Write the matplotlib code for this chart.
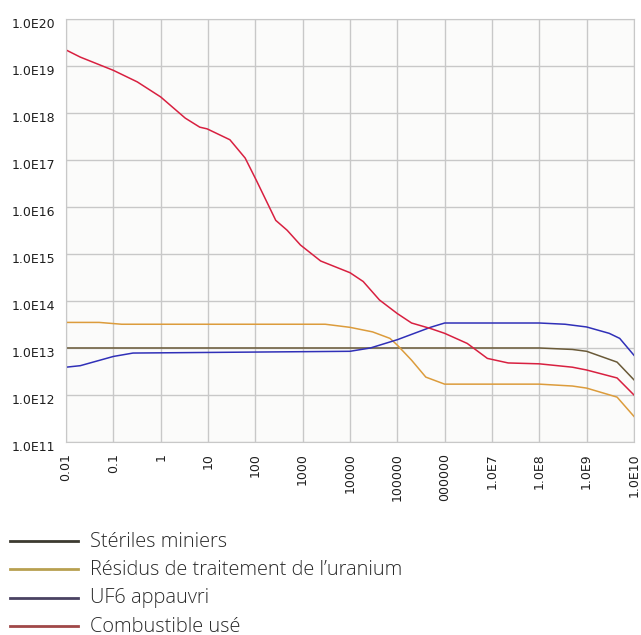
import numpy as np
import matplotlib
matplotlib.use("Agg")
import matplotlib.pyplot as plt
from matplotlib.lines import Line2D
import matplotlib.transforms as mtransforms

# time axis (years) and activity values
sterile_x = [0.01, 1e8, 5e8, 1e9, 4.4e9, 1e10]
sterile_y = [1.0e13, 1.0e13, 9.3e12, 8.5e12, 5.0e12, 2.1e12]

residus_x = [0.01, 0.05, 0.15, 3000, 10000, 30000, 7e4, 1e5, 2e5, 4e5, 1e6,
             1e8, 5e8, 1e9, 4.4e9, 1e10]
residus_y = [3.5e13, 3.5e13, 3.2e13, 3.2e13, 2.75e13, 2.2e13, 1.6e13, 1.15e13,
             5.5e12, 2.4e12, 1.7e12, 1.7e12, 1.55e12, 1.4e12, 9.0e11, 3.5e11]

uf6_x = [0.01, 0.02, 0.1, 0.26, 10000, 27000, 1e5, 5e5, 1e6, 1e8, 3.5e8,
         1e9, 3e9, 5e9, 1e10]
uf6_y = [3.9e12, 4.2e12, 6.6e12, 7.8e12, 8.5e12, 1.0e13, 1.5e13, 2.75e13,
         3.4e13, 3.4e13, 3.2e13, 2.8e13, 2.05e13, 1.6e13, 7.0e12]

combustible_x = [0.01, 0.02, 0.1, 0.32, 1, 3.3, 6.7, 9.6, 29, 61, 105, 270,
                 470, 900, 2400, 10000, 19000, 42000, 1e5, 2e5, 5e5, 1e6,
                 3e6, 8e6, 2.2e7, 1e8, 5e8, 1e9, 4.4e9, 1e10]
combustible_y = [2.2e19, 1.55e19, 8.1e18, 4.6e18, 2.2e18, 7.8e17, 5.0e17,
                 4.6e17, 2.7e17, 1.1e17, 3.7e16, 5.2e15, 3.2e15, 1.55e15,
                 7.1e14, 4.0e14, 2.6e14, 1.05e14, 5.4e13, 3.4e13, 2.6e13,
                 2.05e13, 1.25e13, 6.0e12, 4.8e12, 4.6e12, 3.9e12, 3.4e12,
                 2.3e12, 1.0e12]

x_ticks = [1e-2, 1e-1, 1, 10, 100, 1000, 10000, 1e5, 1e6, 1e7, 1e8, 1e9, 1e10]
x_labels = ["0.01", "0.1", "1", "10", "100", "1000", "10000", "100000",
            "000000", "1.0E7", "1.0E8", "1.0E9", "1.0E10"]
y_ticks = [10.0 ** k for k in range(11, 21)]
y_labels = ["1.0E%d" % k for k in range(11, 21)]

series_names = ["Stériles miniers", "Résidus de traitement de l’uranium",
                "UF6 appauvri", "Combustible usé"]
line_colors = ["#6a5a38", "#dc9c3c", "#3030b8", "#d82040"]
legend_colors = ["#3c3a30", "#b8a050", "#4a4262", "#a04848"]

fig = plt.figure(figsize=(6.41, 6.35), dpi=100)
fig.patch.set_facecolor("white")
ax = fig.add_axes([0.103, 0.304, 0.886, 0.666])
ax.set_facecolor("#fbfbfa")

data = [(sterile_x, sterile_y), (residus_x, residus_y),
        (uf6_x, uf6_y), (combustible_x, combustible_y)]
for (xs, ys), c in zip(data, line_colors):
    ax.plot(xs, ys, color=c, lw=1.1)

ax.set_xscale("log")
ax.set_yscale("log")
ax.set_xlim(1e-2, 1e10)
ax.set_ylim(1e11, 1e20)
ax.set_xticks(x_ticks)
ax.set_xticklabels(x_labels, rotation=90, fontsize=9, family="DejaVu Sans",
                   color="#1e1e1e")
ax.set_yticks(y_ticks)
ax.set_yticklabels(y_labels, fontsize=9, family="DejaVu Sans", color="#1e1e1e")
ax.minorticks_off()
ax.tick_params(length=0, pad=8)
ax.grid(True, color="#c8c8c8", lw=1)
for s in ax.spines.values():
    s.set_color("#c8c8c8")

# y labels sit a little below their gridlines in the original
offset = mtransforms.ScaledTranslation(0, -4 / 100, fig.dpi_scale_trans)
for lab in ax.get_yticklabels():
    lab.set_transform(lab.get_transform() + offset)

# legend below the chart
H = 635.0
for i, (name, c) in enumerate(zip(series_names, legend_colors)):
    yy = 1 - (541 + i * 28.3) / H
    fig.add_artist(Line2D([10 / 641, 78 / 641], [yy, yy], color=c, lw=2,
                          transform=fig.transFigure))
    fig.text(90 / 641, yy - 0.001, name, fontsize=14.4, family="Open Sans",
             weight="light", color="#2a2a2a", va="center", ha="left")

fig.savefig("out.png", dpi=100, facecolor="white")
